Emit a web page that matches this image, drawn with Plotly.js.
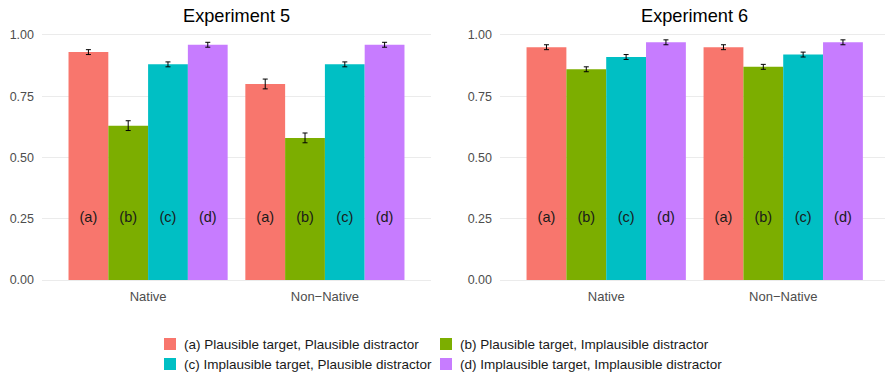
<!DOCTYPE html>
<html><head><meta charset="utf-8">
<script src="https://cdn.plot.ly/plotly-3.0.1.min.js"></script>
<style>html,body{margin:0;padding:0;background:#fff}</style>
</head><body><div id="chart" style="width:885px;height:374px"></div>
<script>
const groups = ['Native', 'Non\u2212Native'];
const conditions = ['(a)', '(b)', '(c)', '(d)'];
const conditionNames = [
  '(a) Plausible target, Plausible distractor',
  '(b) Plausible target, Implausible distractor',
  '(c) Implausible target, Plausible distractor',
  '(d) Implausible target, Implausible distractor'
];
const colors = ['#F8766D', '#7CAE00', '#00BFC4', '#C77CFF'];
const panelTitles = ['Experiment 5', 'Experiment 6'];
// values[condition] = [Native, Non-Native]
const exp5Means = [[0.93, 0.80], [0.63, 0.58], [0.88, 0.88], [0.96, 0.96]];
const exp5Err   = [[0.01, 0.02], [0.02, 0.02], [0.01, 0.01], [0.01, 0.01]];
const exp6Means = [[0.95, 0.95], [0.86, 0.87], [0.91, 0.92], [0.97, 0.97]];
const exp6Err   = [[0.01, 0.01], [0.01, 0.01], [0.01, 0.01], [0.01, 0.01]];
const labelLevel = 0.25;
const yTicks = [0, 0.25, 0.5, 0.75, 1.0];
const yTickText = ['0.00', '0.25', '0.50', '0.75', '1.00'];

const W = 885, H = 374;
const barW = 0.225;
const groupPos = groups.map((g, i) => i + 1);
const panels = [{means: exp5Means, err: exp5Err, xa: 'x', ya: 'y'},
                {means: exp6Means, err: exp6Err, xa: 'x2', ya: 'y2'}];

const traces = [];
panels.forEach((p, pi) => {
  conditions.forEach((c, k) => {
    const xs = groupPos.map(g => g + (k - 1.5) * barW);
    traces.push({
      type: 'bar', x: xs, y: p.means[k], width: barW,
      marker: {color: colors[k], line: {width: 0}},
      name: conditionNames[k], showlegend: false,
      xaxis: p.xa, yaxis: p.ya,
      error_y: {type: 'data', array: p.err[k], visible: true, color: '#000', thickness: 1, width: 2.5},
      hoverinfo: 'skip'
    });
    traces.push({
      type: 'scatter', mode: 'text', x: xs, y: xs.map(() => labelLevel),
      text: xs.map(() => c), textfont: {size: 14.5, color: '#1a1a1a', family: 'Liberation Sans, Arial, sans-serif'},
      showlegend: false, xaxis: p.xa, yaxis: p.ya, hoverinfo: 'skip'
    });
  });
});

// Legend (2 columns x 2 rows), drawn as swatches + text
const legCols = [164, 440];   // swatch left edge, px
const legRows = [344, 364];   // row centre, px
const sw = 12;
const shapes = [];
const annotations = [
  {text: panelTitles[0], xref: 'paper', yref: 'paper', x: 236 / W, y: 1 - 16.5 / H, xanchor: 'center', yanchor: 'middle', showarrow: false, font: {size: 18.2, color: '#000'}},
  {text: panelTitles[1], xref: 'paper', yref: 'paper', x: 694 / W, y: 1 - 16.5 / H, xanchor: 'center', yanchor: 'middle', showarrow: false, font: {size: 18.2, color: '#000'}}
];
conditionNames.forEach((name, k) => {
  const cx = legCols[k % 2], cy = legRows[Math.floor(k / 2)];
  shapes.push({type: 'rect', xref: 'paper', yref: 'paper',
    x0: cx / W, x1: (cx + sw) / W, y0: 1 - (cy + sw / 2) / H, y1: 1 - (cy - sw / 2) / H,
    fillcolor: colors[k], line: {width: 0}});
  annotations.push({text: name, xref: 'paper', yref: 'paper', x: (cx + sw + 6) / W, y: 1 - cy / H,
    xanchor: 'left', yanchor: 'middle', showarrow: false, font: {size: 13.5, color: '#1a1a1a'}});
});

const xCommon = {
  tickvals: groupPos, ticktext: groups, showgrid: false, zeroline: false, showline: false,
  ticks: '', tickfont: {size: 13, color: '#4d4d4d'}, fixedrange: true
};
const yCommon = {
  range: [-0.03, 1.03], tickvals: yTicks, ticktext: yTickText, showgrid: true,
  gridcolor: '#ebebeb', gridwidth: 1, zeroline: false, showline: false, ticks: '',
  tickfont: {size: 12.5, color: '#4d4d4d'}, ticklabelstandoff: 7, fixedrange: true
};
const yDom = [1 - 287.4 / H, 1 - 27.6 / H];
const layout = {
  width: W, height: H,
  margin: {l: 0, r: 0, t: 0, b: 0, autoexpand: false},
  paper_bgcolor: '#fff', plot_bgcolor: '#fff',
  font: {family: 'Liberation Sans, Arial, sans-serif', color: '#1a1a1a'},
  barmode: 'overlay',
  xaxis: Object.assign({}, xCommon, {domain: [42 / W, 431 / W], range: [0.4, 2.6], anchor: 'y'}),
  yaxis: Object.assign({}, yCommon, {domain: yDom, anchor: 'x'}),
  xaxis2: Object.assign({}, xCommon, {domain: [500 / W, 1], range: [0.4, 2.575], anchor: 'y2'}),
  yaxis2: Object.assign({}, yCommon, {domain: yDom, anchor: 'x2'}),
  annotations: annotations,
  shapes: shapes,
  showlegend: false
};
Plotly.newPlot('chart', traces, layout, {displayModeBar: false, staticPlot: true});
</script></body></html>
